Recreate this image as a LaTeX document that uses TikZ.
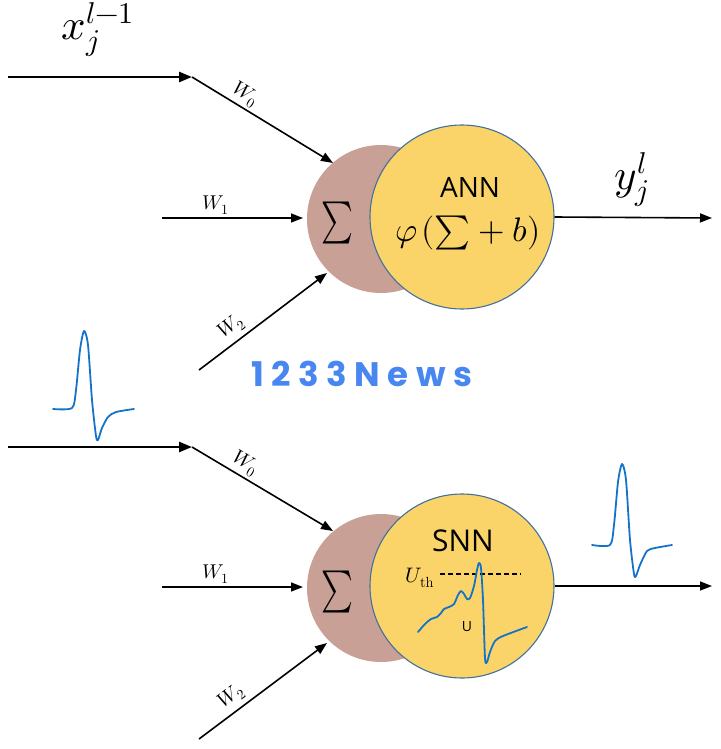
\documentclass[tikz,border=0pt]{standalone}
\usepackage{fontspec}
\usepackage{unicode-math}
\usetikzlibrary{arrows.meta}
\newfontfamily\calfont{Open Sans}
\newfontfamily\wmfont[LetterSpace=22]{Poppins}
\definecolor{sumbrown}{RGB}{201,160,150}
\definecolor{annyellow}{RGB}{250,212,104}
\definecolor{rimblue}{RGB}{65,113,156}
\definecolor{spikeblue}{RGB}{20,115,200}
\definecolor{wmblue}{RGB}{72,134,240}
\tikzset{
  thickarrow/.style={line width=2.6pt,-{Triangle[length=13pt,width=10pt]}},
  thinarrow/.style={line width=1.6pt,-{Triangle[length=12pt,width=9pt]}},
  sumcircle/.style={circle,fill=sumbrown,minimum size=148pt,inner sep=0pt},
  neuron/.style={circle,fill=annyellow,draw=rimblue,line width=1.1pt,minimum size=184pt,inner sep=0pt},
  wlabel/.style={font=\fontsize{20}{24}\selectfont,inner sep=2.5pt},
  bigmath/.style={font=\fontsize{43}{50}\selectfont,inner sep=0pt},
  spike/.style={spikeblue,line width=1.8pt,line join=round,line cap=round},
}
\begin{document}
\begin{tikzpicture}[x=1pt,y=-1pt]
\useasboundingbox (0,0) rectangle (720,749);
% ---------------- ANN (top) ----------------
\node[sumcircle] (sumA) at (381,219) {};
\node[neuron] (ann) at (462,217) {};
\node[inner sep=0pt] (sigA) at (337,223) {\fontsize{42}{48}\selectfont\scalebox{0.72}[1]{$\textstyle\sum$}};
\node[font=\calfont\fontsize{28}{32}\selectfont,inner sep=0pt] (annlbl) at (470,187) {ANN};
\node[font=\fontsize{34}{40}\selectfont,inner sep=0pt] (phi) at (468,233) {$\varphi\mkern2mu(\mathord{\textstyle\sum}+b)$};
\node[bigmath] (xin) at (98,30) {$x_j^{l-1}$};
\node[bigmath] (yout) at (632,180) {$y_j^{l}$};
\coordinate (a0s) at (8,77);
\coordinate (a0j) at (192,77);
\coordinate (a0t) at (333,163);
\coordinate (a1s) at (162,218);
\coordinate (a1t) at (303,218);
\coordinate (a2s) at (199,370);
\coordinate (a2t) at (327,273);
\coordinate (aout) at (712,218);
\draw[thickarrow] (a0s) -- (a0j);
\draw[thinarrow] (a0j) -- node[wlabel,sloped,above,pos=0.33] {$W_0$} (a0t);
\draw[thinarrow] (a1s) -- node[wlabel,above,pos=0.38] {$W_1$} (a1t);
\draw[thinarrow] (a2s) -- node[wlabel,sloped,above,pos=0.32,yshift=2pt] {$W_2$} (a2t);
\draw[thinarrow] (ann.east) -- (aout);
% ---------------- watermark ----------------
\node[font=\wmfont\bfseries\fontsize{34}{38}\selectfont,text=wmblue,inner sep=0pt] (wm) at (362,374) {1233News};
% ---------------- SNN (bottom) ----------------
\node[sumcircle] (sumS) at (381,588) {};
\node[neuron] (snn) at (462,586) {};
\node[inner sep=0pt] (sigS) at (337,592) {\fontsize{42}{48}\selectfont\scalebox{0.72}[1]{$\textstyle\sum$}};
\node[font=\calfont\fontsize{30}{34}\selectfont,inner sep=0pt] (snnlbl) at (463,541) {SNN};
\node[font=\fontsize{21}{24}\selectfont,inner sep=0pt] (uth) at (420,578) {$U_{\mathrm{th}}$};
\node[font=\calfont\fontsize{14}{16}\selectfont,inner sep=0pt] (ulbl) at (467,627) {U};
\coordinate (thA) at (440,574);
\coordinate (thB) at (521,574);
\draw[line width=1.3pt,dash pattern=on 5pt off 3pt] (thA) -- (thB);
\coordinate (b0s) at (8,447);
\coordinate (b0j) at (192,447);
\coordinate (b0t) at (333,531);
\coordinate (b1s) at (162,587);
\coordinate (b1t) at (303,587);
\coordinate (b2s) at (199,739);
\coordinate (b2t) at (327,643);
\coordinate (bout) at (712,586);
\draw[thickarrow] (b0s) -- (b0j);
\draw[thinarrow] (b0j) -- node[wlabel,sloped,above,pos=0.33] {$W_0$} (b0t);
\draw[thinarrow] (b1s) -- node[wlabel,above,pos=0.38] {$W_1$} (b1t);
\draw[thinarrow] (b2s) -- node[wlabel,sloped,above,pos=0.32,yshift=2pt] {$W_2$} (b2t);
\draw[thinarrow] (snn.east) -- (bout);
% spikes
\draw[spike] plot[smooth,tension=0.45] coordinates {(53,409) (72,408) (76,390) (80,350) (84,331) (88,345) (92,400) (96,436) (98,440) (102,428) (108,417) (116,412) (134,409)};
\draw[spike] plot[smooth,tension=0.45] coordinates {(592,545) (610,545) (614,525) (618,482) (622,464) (626,480) (630,540) (634,574) (636,576) (640,565) (647,551) (655,548) (672,545)};
\draw[spike] plot[smooth,tension=0.45] coordinates {(418,632) (425,624) (431,619) (437,617) (441,613) (444,609) (449,607) (454,604) (458,595) (461,591) (464,594) (467,599) (470,598) (474,586) (477,570) (479,563) (481,568) (483,600) (485,658) (487,662) (490,652) (495,641) (503,636) (527,627)};
\end{tikzpicture}
\end{document}
